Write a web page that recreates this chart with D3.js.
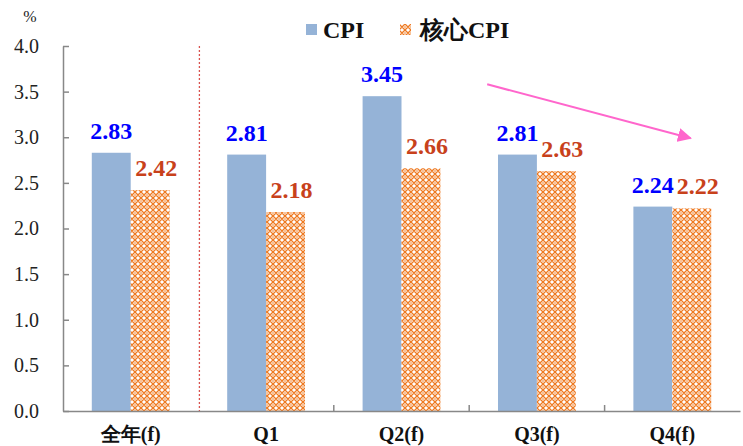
<!DOCTYPE html>
<html><head><meta charset="utf-8">
<script src="https://cdn.jsdelivr.net/npm/d3@7/dist/d3.min.js"></script>
<style>body{margin:0;background:#fff}svg{display:block}</style>
</head><body>
<svg id="c" width="743" height="446"></svg>
<script>
const categories = ["全年(f)", "Q1", "Q2(f)", "Q3(f)", "Q4(f)"];
const cpi = [2.83, 2.81, 3.45, 2.81, 2.24];
const coreCpi = [2.42, 2.18, 2.66, 2.63, 2.22];
const yTicks = [0, 0.5, 1.0, 1.5, 2.0, 2.5, 3.0, 3.5, 4.0];
const seriesNames = ["CPI", "核心CPI"];

const svg = d3.select("#c");
const serif = "'Liberation Serif'";
const m = {l: 63, r: 3, t: 46, b: 35};
const W = 743, H = 446;
const x = d3.scaleBand().domain(categories).range([m.l, W - m.r]).paddingInner(0).paddingOuter(0);
const xs = d3.scaleBand().domain(seriesNames).range([0, x.bandwidth()]).paddingInner(0).paddingOuter(0.74);
const y = d3.scaleLinear().domain([0, 4]).range([H - m.b, m.t]);

const defs = svg.append("defs");
const pat = defs.append("pattern").attr("id", "lat").attr("patternUnits", "userSpaceOnUse")
  .attr("width", 6).attr("height", 6);
pat.append("rect").attr("width", 6).attr("height", 6).attr("fill", "#fff");
pat.append("path").attr("d", "M0,3 L3,0 L6,3 L3,6 Z").attr("fill", "none").attr("stroke", "#EE7A22").attr("stroke-width", 1.3);
pat.append("rect").attr("x", 2.2).attr("y", 2.2).attr("width", 1.6).attr("height", 1.6).attr("fill", "#F4A060");

// y axis
const ya = svg.append("g").attr("transform", `translate(${m.l},0)`)
  .call(d3.axisLeft(y).tickValues(yTicks).tickFormat(d3.format(".1f")).tickSizeInner(-6).tickSizeOuter(0).tickPadding(24));
ya.attr("font-family", null);
ya.select(".domain").attr("stroke", "#888").attr("stroke-width", 1.5);
ya.selectAll(".tick line").attr("stroke", "#888").attr("stroke-width", 1.5);
ya.selectAll("text").style("font-family", serif).attr("font-size", 20).attr("fill", "#222");

svg.append("text").attr("x", 30).attr("y", 22).attr("text-anchor", "middle")
  .style("font-family", serif).attr("font-size", 16).attr("fill", "#222").text("%");

// divider
svg.append("line").attr("x1", x(categories[1]) + 1).attr("x2", x(categories[1]) + 1)
  .attr("y1", y(4)).attr("y2", y(0) + 3).attr("stroke", "#D9534F").attr("stroke-width", 1.3)
  .attr("stroke-dasharray", "2,2");

// bars
const g = svg.append("g");
categories.forEach((c, i) => {
  g.append("rect").attr("x", x(c) + xs("CPI")).attr("width", xs.bandwidth())
    .attr("y", y(cpi[i])).attr("height", y(0) - y(cpi[i])).attr("fill", "#95B3D7");
  g.append("rect").attr("x", x(c) + xs("核心CPI")).attr("width", xs.bandwidth())
    .attr("y", y(coreCpi[i])).attr("height", y(0) - y(coreCpi[i])).attr("fill", "url(#lat)");
  g.append("text").attr("x", x(c) + xs("CPI") + xs.bandwidth() / 2).attr("y", y(cpi[i]) - 14)
    .attr("text-anchor", "middle").style("font-family", serif).attr("font-weight", "bold")
    .attr("font-size", 24).attr("fill", "#0000FF").text(cpi[i].toFixed(2));
  g.append("text").attr("x", x(c) + xs("核心CPI") + xs.bandwidth() / 2 + 6).attr("y", y(coreCpi[i]) - 14)
    .attr("text-anchor", "middle").style("font-family", serif).attr("font-weight", "bold")
    .attr("font-size", 24).attr("fill", "#C8411B").text(coreCpi[i].toFixed(2));
});

// x axis
const xa = svg.append("g").attr("transform", `translate(0,${y(0)})`)
  .call(d3.axisBottom(x).tickSize(0).tickPadding(16));
xa.attr("font-family", null);
xa.select(".domain").attr("stroke", "#888").attr("stroke-width", 1.5);
xa.selectAll("text").style("font-family", serif).attr("font-weight", "bold").attr("font-size", 20).attr("fill", "#111");
categories.slice(2).forEach(c => {
  svg.append("line").attr("x1", x(c)).attr("x2", x(c)).attr("y1", y(0)).attr("y2", y(0) - 6)
    .attr("stroke", "#888").attr("stroke-width", 1.5);
});

// legend
const lg = svg.append("g").style("font-family", serif).attr("font-weight", "bold").attr("font-size", 24).attr("fill", "#111");
lg.append("rect").attr("x", 306).attr("y", 24).attr("width", 11).attr("height", 11).attr("fill", "#95B3D7");
lg.append("text").attr("x", 323).attr("y", 38).text("CPI");
lg.append("rect").attr("x", 400).attr("y", 24).attr("width", 11).attr("height", 11).attr("fill", "url(#lat)");
lg.append("text").attr("x", 420).attr("y", 38).text("核心CPI");

// trend arrow
defs.append("marker").attr("id", "ah").attr("viewBox", "0 0 10 10").attr("refX", 9).attr("refY", 5)
  .attr("markerWidth", 7).attr("markerHeight", 7).attr("orient", "auto")
  .append("path").attr("d", "M0,0 L10,5 L0,10 Z").attr("fill", "#FF66CC");
svg.append("line")
  .attr("x1", x(categories[3]) + 18).attr("y1", y(3.58))
  .attr("x2", x(categories[4]) + 86).attr("y2", y(2.99))
  .attr("stroke", "#FF66CC").attr("stroke-width", 2).attr("marker-end", "url(#ah)");
</script>
</body></html>
